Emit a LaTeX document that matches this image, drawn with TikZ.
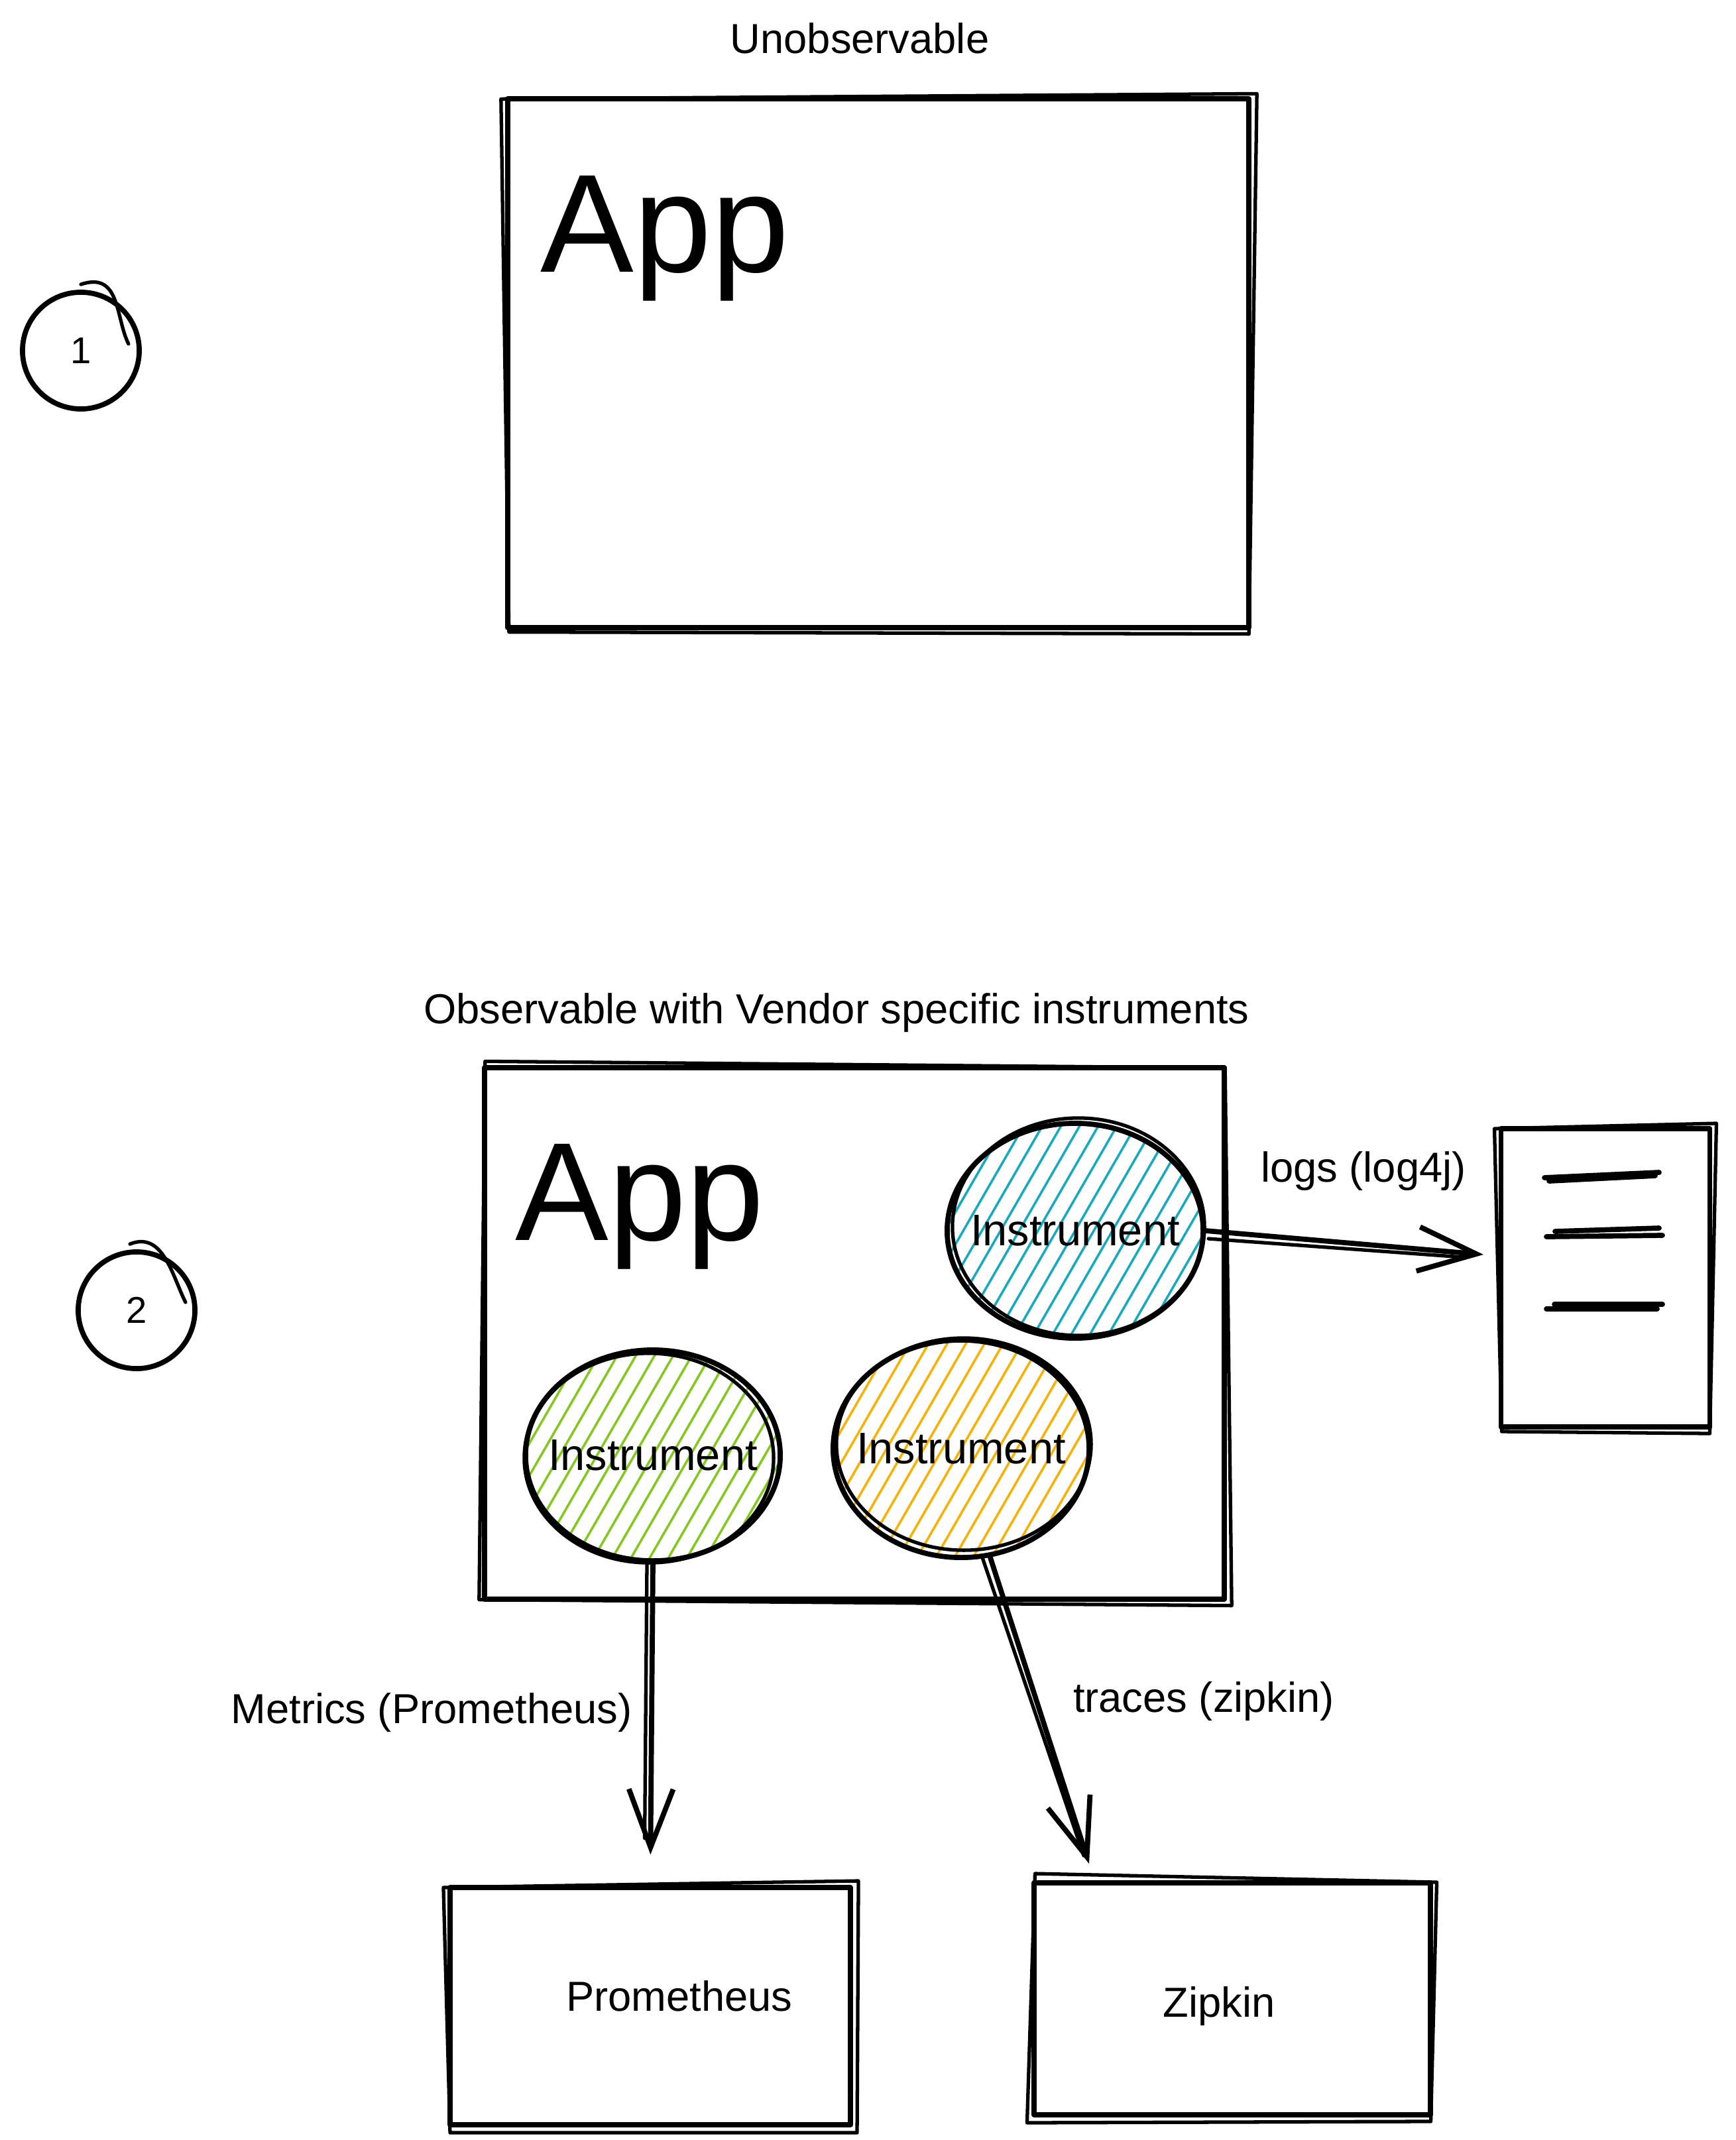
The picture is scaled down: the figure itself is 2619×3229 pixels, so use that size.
\documentclass[tikz,border=0pt]{standalone}
\usepackage{fontspec}
\setmainfont{Liberation Sans}
\usetikzlibrary{shapes.geometric,arrows.meta,calc}
\definecolor{hblue}{HTML}{15AABF}
\definecolor{hgreen}{HTML}{82C91E}
\definecolor{horange}{HTML}{FAB005}
\begin{document}
\begin{tikzpicture}[x=0.01cm,y=-0.01cm,
  ink/.style={line width=2.2pt, line cap=round, line join=round},
  thin ink/.style={line width=1.5pt, line cap=round, line join=round},
  box/.style={ink, draw, rectangle, inner sep=0pt},
  lbl/.style={font=\fontsize{18}{20}\selectfont, inner sep=0pt},
  insttxt/.style={font=\fontsize{19}{21}\selectfont, inner sep=0pt},
  apptxt/.style={font=\fontsize{60}{62}\selectfont, inner sep=0pt, anchor=base west},
  blob/.style={ellipse, ink, draw, inner sep=0pt},
  hatch/.style={path picture={
     \foreach \k in {-16,...,16}
       \draw[#1, line width=1pt] ([xshift=\k*8pt-60pt, yshift=-104pt]path picture bounding box.center) -- ++(120pt,208pt);
  }},
  num/.style={circle, ink, draw, inner sep=0pt, minimum size=1.76cm, font=\fontsize{16}{18}\selectfont},
  arr/.style={ink, -{Straight Barb[length=25pt,width=19pt,line width=2.2pt]}},
]
\fill[white] (0,0) rectangle (2619,3229);
\useasboundingbox (0,0) rectangle (2619,3229);

% ---------- part 1 ----------
\node[lbl] (t1) at (1297,58) {Unobservable};
\node[box, minimum width=11.18cm, minimum height=7.97cm] (box1) at (1325,548) {};
\draw[thin ink] ([shift={(-6,4)}]box1.north west) -- ([shift={(8,-4)}]box1.north east) -- ([shift={(-4,6)}]box1.south east) -- ([shift={(6,3)}]box1.south west) -- cycle;
\node[apptxt] (app1) at (815,410) {App};
\node[num] (n1) at (122,529) {1};
\draw[thin ink] ([shift={(0,-8)}]n1.north) .. controls +(60,-20) and +(-20,-40) .. ([shift={(-20,-10)}]n1.east);

% ---------- part 2 ----------
\node[lbl] (t2) at (1262,1528) {Observable with Vendor specific instruments};
\node[box, minimum width=11.16cm, minimum height=8.01cm] (box2) at (1289,2012) {};
\draw[thin ink] ([shift={(5,-6)}]box2.north west) -- ([shift={(-3,4)}]box2.north east) -- ([shift={(7,6)}]box2.south east) -- ([shift={(-4,-3)}]box2.south west) -- cycle;
\node[apptxt] (app2) at (777,1871) {App};
\node[num] (n2) at (206,1977) {2};
\draw[thin ink] ([shift={(-10,-8)}]n2.north) .. controls +(50,-20) and +(-20,-40) .. ([shift={(-18,-12)}]n2.east);

% instruments
\node[blob, hatch=hblue, minimum width=3.86cm, minimum height=3.24cm] (instB) at (1622,1857) {};
\node[blob, hatch=hgreen, minimum width=3.84cm, minimum height=3.18cm] (instG) at (985,2196) {};
\node[blob, hatch=horange, minimum width=3.86cm, minimum height=3.28cm] (instO) at (1450,2186) {};
\draw[thin ink] ([shift={(5,-6)}]instB.center) ellipse[x radius=1.90cm, y radius=1.64cm];
\draw[thin ink] ([shift={(-6,4)}]instG.center) ellipse[x radius=1.88cm, y radius=1.58cm];
\draw[thin ink] ([shift={(4,-7)}]instO.center) ellipse[x radius=1.92cm, y radius=1.60cm];
\node[insttxt] (iB) at (instB.center) {Instrument};
\node[insttxt] (iG) at (instG.center) {Instrument};
\node[insttxt] (iO) at (instO.center) {Instrument};

% document box
\node[box, minimum width=3.15cm, minimum height=4.5cm] (doc) at (2422,1928) {};
\draw[thin ink] ([shift={(-6,4)}]doc.north west) -- ([shift={(6,-4)}]doc.north east) -- ([shift={(-4,6)}]doc.south east) -- ([shift={(5,3)}]doc.south west) -- cycle;
\draw[ink] (2330,1777) -- (2503,1769);
\draw[ink] (2337,1782) -- (2497,1774);
\draw[ink] (2346,1858) -- (2503,1853);
\draw[ink] (2333,1866) -- (2508,1864);
\draw[ink] (2345,1968) -- (2508,1968);
\draw[ink] (2333,1975) -- (2500,1975);

% backends
\node[box, minimum width=6.04cm, minimum height=3.58cm] (prom) at (981,3027) {};
\draw[thin ink] ([shift={(-6,4)}]prom.north west) -- ([shift={(8,-6)}]prom.north east) -- ([shift={(6,8)}]prom.south east) -- ([shift={(4,8)}]prom.south west) -- cycle;
\node[lbl] (promtxt) at (1025,3012) {Prometheus};
\node[box, minimum width=5.97cm, minimum height=3.5cm] (zip) at (1859,3016) {};
\draw[thin ink] ([shift={(5,-10)}]zip.north west) -- ([shift={(6,3)}]zip.north east) -- ([shift={(-3,6)}]zip.south east) -- ([shift={(-7,8)}]zip.south west) -- cycle;
\node[lbl] (ziptxt) at (1839,3027) {Zipkin};

% connectors
\coordinate (logend) at (2238,1893);
\draw[arr] (instB.east) -- (logend);
\draw[thin ink] ([shift={(4,12)}]instB.east) -- ([shift={(-30,4)}]logend);
\node[lbl] (loglbl) at (2057,1767) {logs (log4j)};

\draw[arr, shorten >=13pt] (instG.south) -- (prom.north);
\draw[thin ink, shorten >=20pt] ([shift={(-9,0)}]instG.south) -- ([shift={(-9,0)}]prom.north);
\node[lbl] (metlbl) at (651,2584) {Metrics (Prometheus)};

\coordinate (trend) at (1643,2812);
\draw[arr] (instO.-75) -- (trend);
\draw[thin ink] ([shift={(-12,0)}]instO.-75) -- ([shift={(-8,-12)}]trend);
\node[lbl] (trlbl) at (1816,2567) {traces (zipkin)};
\end{tikzpicture}
\end{document}
